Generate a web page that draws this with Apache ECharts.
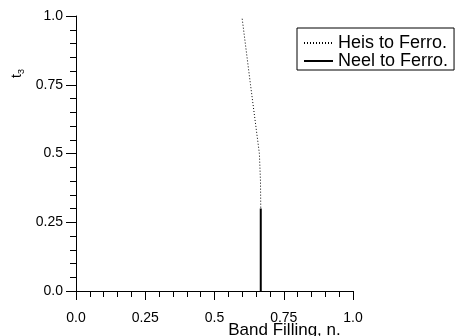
<!DOCTYPE html>
<html>
<head>
<meta charset="utf-8">
<script src="https://cdn.jsdelivr.net/npm/echarts@6/dist/echarts.min.js"></script>
<style>
  html, body { margin: 0; padding: 0; background: #fff; }
  #chart { width: 456px; height: 336px; }
</style>
</head>
<body>
<div id="chart"></div>
<script>
// band filling n vs t3 for the two transitions
const heisN = [0.600, 0.630, 0.662, 0.666, 0.667];
const heisT = [0.99, 0.75, 0.50, 0.40, 0.30];
const neelN = [0.667, 0.667];
const neelT = [0.30, 0.0];
const seriesNames = ['Heis to Ferro.', 'Neel to Ferro.'];
const tickValues = [0, 0.25, 0.5, 0.75, 1];
const tickLabels = ['0.0', '0.25', '0.5', '0.75', '1.0'];

const font = 'Liberation Sans, Arial, sans-serif';

function fmt(v) {
  const i = tickValues.findIndex(t => Math.abs(t - v) < 1e-9);
  return i >= 0 ? tickLabels[i] : '';
}

const chart = echarts.init(document.getElementById('chart'));

const axisCommon = {
  type: 'value',
  min: 0,
  max: 1,
  interval: 0.25,
  axisLine: { show: true, lineStyle: { color: '#000', width: 1 } },
  axisTick: { show: true, length: 9, lineStyle: { color: '#000' } },
  minorTick: { show: true, splitNumber: 5, length: 6, lineStyle: { color: '#000' } },
  splitLine: { show: false },
  axisLabel: { color: '#000', fontSize: 14, fontFamily: font, formatter: fmt }
};

const option = {
  animation: false,
  backgroundColor: '#fff',
  grid: { left: 76, right: 103, top: 16, bottom: 45, containLabel: false, outerBoundsMode: 'none' },
  legend: {
    orient: 'vertical',
    left: 297,
    top: 28,
    padding: [6, 6, 0, 6],
    itemGap: 0,
    itemWidth: 29,
    itemHeight: 17,
    borderColor: '#000',
    borderWidth: 1,
    borderRadius: 0,
    itemStyle: { opacity: 0 },
    textStyle: { color: '#000', fontSize: 18, lineHeight: 17, fontFamily: font },
    data: seriesNames
  },
  xAxis: Object.assign({}, axisCommon, {
    name: 'Band Filling, n.',
    nameLocation: 'middle',
    nameGap: 31,
    nameMoveOverlap: false,
    nameTextStyle: { color: '#000', fontSize: 17, fontFamily: font, padding: [0, 0, 0, 140] },
    axisLabel: Object.assign({}, axisCommon.axisLabel, { margin: 20 })
  }),
  yAxis: Object.assign({}, axisCommon, {
    axisTick: { show: true, length: 10, lineStyle: { color: '#000' } },
    axisLabel: Object.assign({}, axisCommon.axisLabel, { margin: 13 }),
    name: '{t|t}{s|3}',
    nameLocation: 'middle',
    nameGap: 50,
    nameRotate: 90,
    nameMoveOverlap: false,
    nameTextStyle: {
      padding: [0, 0, 0, 160],
      rich: {
        t: { fontSize: 14, fontFamily: font, color: '#000', lineHeight: 18, verticalAlign: 'middle' },
        s: { fontSize: 9, fontFamily: font, color: '#000', lineHeight: 18, verticalAlign: 'bottom' }
      }
    }
  }),
  series: [
    {
      name: seriesNames[0],
      type: 'line',
      symbol: 'none',
      lineStyle: { color: '#000', width: 1, type: [1, 2] },
      itemStyle: { color: '#000' },
      data: heisN.map((n, i) => [n, heisT[i]])
    },
    {
      name: seriesNames[1],
      type: 'line',
      symbol: 'none',
      lineStyle: { color: '#000', width: 2, type: 'solid' },
      itemStyle: { color: '#000' },
      data: neelN.map((n, i) => [n, neelT[i]])
    }
  ]
};

chart.setOption(option);
</script>
</body>
</html>
